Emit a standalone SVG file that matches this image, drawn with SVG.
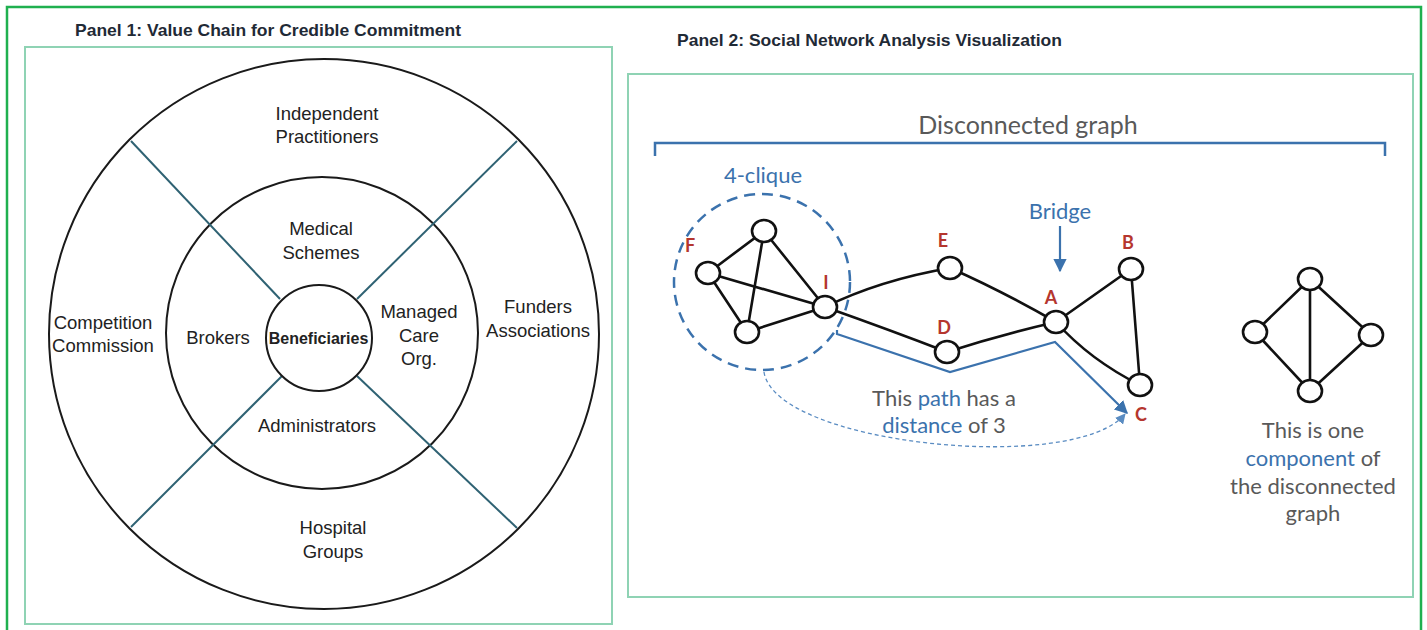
<svg xmlns="http://www.w3.org/2000/svg" width="1427" height="630" viewBox="0 0 1427 630">
<defs>
<style>
.frame{fill:none;stroke:#8fd3b4;stroke-width:2}
.title{font-family:"Liberation Sans Narrow","Liberation Sans",Arial,sans-serif;font-weight:bold;font-size:17px;fill:#1f2a36}
.ring{fill:none;stroke:#1a1a1a;stroke-width:2}
.spoke{stroke:#2f6273;stroke-width:2}
.t1{font-family:"Liberation Sans",Arial,sans-serif;font-size:18.5px;fill:#222;text-anchor:middle}
.bold{font-weight:bold;font-size:16px}
.edge{stroke:#111;stroke-width:2.6;fill:none;stroke-linecap:round}
.node{fill:#fff;stroke:#111;stroke-width:2.6}
.lbl{font-family:Lato,"Open Sans",sans-serif;font-weight:bold;font-size:18px;fill:#b5362e;text-anchor:middle}
.t2{font-family:Lato,"Open Sans",sans-serif;font-size:22px;fill:#595959;text-anchor:middle}
.blue{fill:#3b72ad}
</style>
<marker id="arr" viewBox="0 0 10 10" refX="9" refY="5" markerWidth="6" markerHeight="6" orient="auto-start-reverse">
<path d="M0,0 L10,5 L0,10 z" fill="#3b72ad"/>
</marker>
<marker id="arrs" viewBox="0 0 10 10" refX="9" refY="5" markerWidth="8" markerHeight="8" orient="auto-start-reverse">
<path d="M0,0 L10,5 L0,10 z" fill="#5a8cc2"/>
</marker>
</defs>
<rect x="0" y="0" width="1427" height="630" fill="#fff"/>
<rect x="7" y="7" width="1414" height="640" fill="none" stroke="#1fb04f" stroke-width="2.5"/>

<!-- Panel 1 -->
<g id="panel1">
<text class="title" x="75" y="36" textLength="386" lengthAdjust="spacingAndGlyphs">Panel 1: Value Chain for Credible Commitment</text>
<rect class="frame" x="25" y="47" width="587" height="577"/>
<circle class="ring" cx="324" cy="334" r="275"/>
<circle class="ring" cx="322" cy="333" r="156"/>
<g id="spokes">
<line class="spoke" x1="131" y1="141" x2="280" y2="299"/>
<line class="spoke" x1="517" y1="141" x2="357" y2="299"/>
<line class="spoke" x1="131" y1="527" x2="282" y2="376"/>
<line class="spoke" x1="517" y1="528" x2="357" y2="376"/>
</g>
<g id="beneficiaries">
<circle class="ring" cx="319" cy="338" r="53" fill="#fff"/>
<text class="t1 bold" x="318.5" y="344">Beneficiaries</text>
</g>
<g id="independent"><text class="t1" x="327" y="120">Independent</text><text class="t1" x="327" y="143">Practitioners</text></g>
<g id="medical"><text class="t1" x="321" y="235">Medical</text><text class="t1" x="321" y="259">Schemes</text></g>
<g id="competition"><text class="t1" x="103" y="329">Competition</text><text class="t1" x="103" y="352">Commission</text></g>
<g id="brokers"><text class="t1" x="218" y="344">Brokers</text></g>
<g id="managed"><text class="t1" x="419" y="318">Managed</text><text class="t1" x="419" y="342">Care</text><text class="t1" x="419" y="365">Org.</text></g>
<g id="funders"><text class="t1" x="538" y="313">Funders</text><text class="t1" x="538" y="337">Associations</text></g>
<g id="administrators"><text class="t1" x="317" y="432">Administrators</text></g>
<g id="hospital"><text class="t1" x="333" y="534">Hospital</text><text class="t1" x="333" y="558">Groups</text></g>
</g>

<!-- Panel 2 -->
<g id="panel2">
<text class="title" x="677" y="46" textLength="385" lengthAdjust="spacingAndGlyphs">Panel 2: Social Network Analysis Visualization</text>
<rect class="frame" x="628" y="74" width="785" height="523"/>
<g id="bracket">
<text class="t2" x="1028" y="134" style="font-size:25px">Disconnected graph</text>
<path d="M655,156 V143 H1385 V156" fill="none" stroke="#3b72ad" stroke-width="2.5"/>
</g>
<g id="clique">
<circle cx="762" cy="282" r="88" fill="none" stroke="#3b72ad" stroke-width="2.5" stroke-dasharray="11,7"/>
<text class="t2 blue" x="763" y="183">4-clique</text>
</g>
<g id="connectors">
<line class="edge" x1="764" y1="231" x2="708" y2="273"/>
<line class="edge" x1="764" y1="231" x2="747" y2="332"/>
<line class="edge" x1="764" y1="231" x2="825" y2="307"/>
<line class="edge" x1="708" y1="273" x2="825" y2="307"/>
<line class="edge" x1="708" y1="273" x2="747" y2="332"/>
<line class="edge" x1="747" y1="332" x2="825" y2="307"/>
<path class="edge" d="M825,307 Q880,280 950,268"/>
<path class="edge" d="M825,307 Q890,330 947,352"/>
<path class="edge" d="M950,268 Q1000,290 1056,322"/>
<path class="edge" d="M947,352 Q1000,335 1056,322"/>
<line class="edge" x1="1056" y1="322" x2="1131" y2="269"/>
<path class="edge" d="M1056,322 Q1090,360 1140,385"/>
<line class="edge" x1="1131" y1="269" x2="1140" y2="385"/>
<line class="edge" x1="1310" y1="279" x2="1255" y2="332"/>
<line class="edge" x1="1310" y1="279" x2="1371" y2="335"/>
<line class="edge" x1="1310" y1="279" x2="1310" y2="391"/>
<line class="edge" x1="1255" y1="332" x2="1310" y2="391"/>
<line class="edge" x1="1371" y1="335" x2="1310" y2="391"/>
<path d="M837,330 V334 L950,372 L1055,342 L1127,413" fill="none" stroke="#3b72ad" stroke-width="2.2" marker-end="url(#arr)"/>
<path d="M764,372 C775,445 1075,475 1125,414" fill="none" stroke="#5a8cc2" stroke-width="1.3" stroke-dasharray="4,3" marker-end="url(#arrs)"/>
<line x1="1060" y1="226" x2="1060" y2="271" stroke="#3b72ad" stroke-width="2.2" marker-end="url(#arr)"/>
</g>
<g id="node-top"><ellipse class="node" cx="764" cy="231" rx="12" ry="11"/></g>
<g id="node-F"><ellipse class="node" cx="708" cy="273" rx="12" ry="11"/><text class="lbl" x="690" y="252">F</text></g>
<g id="node-bottom"><ellipse class="node" cx="747" cy="332" rx="12" ry="11"/></g>
<g id="node-I"><ellipse class="node" cx="825" cy="307" rx="12" ry="11"/><text class="lbl" x="826" y="289">I</text></g>
<g id="node-E"><ellipse class="node" cx="950" cy="268" rx="12" ry="11"/><text class="lbl" x="943" y="247">E</text></g>
<g id="node-D"><ellipse class="node" cx="947" cy="352" rx="12" ry="11"/><text class="lbl" x="944" y="334">D</text></g>
<g id="node-A"><ellipse class="node" cx="1056" cy="322" rx="12" ry="11"/><text class="lbl" x="1051" y="304">A</text></g>
<g id="node-B"><ellipse class="node" cx="1131" cy="269" rx="12" ry="11"/><text class="lbl" x="1128" y="249">B</text></g>
<g id="node-C"><ellipse class="node" cx="1140" cy="385" rx="12" ry="11"/><text class="lbl" x="1141" y="421">C</text></g>
<g id="comp-top"><ellipse class="node" cx="1310" cy="279" rx="12" ry="11"/></g>
<g id="comp-left"><ellipse class="node" cx="1255" cy="332" rx="12" ry="11"/></g>
<g id="comp-right"><ellipse class="node" cx="1371" cy="335" rx="12" ry="11"/></g>
<g id="comp-bottom"><ellipse class="node" cx="1310" cy="391" rx="12" ry="11"/></g>
<g id="bridge-label"><text class="t2 blue" x="1060" y="219">Bridge</text></g>
<g id="path-label">
<text class="t2" x="944" y="406">This <tspan class="blue">path</tspan> has a</text>
<text class="t2" x="944" y="433"><tspan class="blue">distance</tspan> of 3</text>
</g>
<g id="component-label">
<text class="t2" x="1313" y="438">This is one</text>
<text class="t2" x="1313" y="466"><tspan class="blue">component</tspan> of</text>
<text class="t2" x="1313" y="494">the disconnected</text>
<text class="t2" x="1313" y="521">graph</text>
</g>
</g>
</svg>
